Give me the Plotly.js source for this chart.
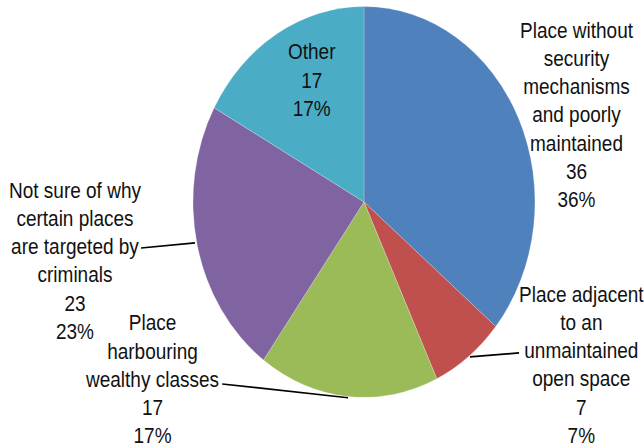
<!DOCTYPE html>
<html>
<head>
<meta charset="utf-8">
<script src="https://cdn.plot.ly/plotly-3.0.1.min.js"></script>
<style>
  html, body { margin: 0; padding: 0; background: #fff; overflow: hidden; }
  #wrap { width: 644px; height: 448px; overflow: hidden; }
  #plot { width: 644px; height: 392px; transform: scale(1, 1.142857); transform-origin: 0 0; }
</style>
</head>
<body>
<div id="wrap"><div id="plot"></div></div>
<script>
// Data
const categories = [
  "Place without<br>security<br>mechanisms<br>and poorly<br>maintained",
  "Place adjacent<br>to an<br>unmaintained<br>open space",
  "Place<br>harbouring<br>wealthy classes",
  "Not sure of why<br>certain places<br>are targeted by<br>criminals",
  "Other"
];
const values = [36, 7, 17, 23, 17];
const colors = ["#4F81BD", "#C0504D", "#9BBB59", "#8064A2", "#4BACC6"];

// Label placement (paper coords) and leader lines
const labelPos = [
  [0.896, 0.7434], [0.9037, 0.1842], [0.236, 0.154], [0.1165, 0.4176], [0.4845, 0.8214]
];
const leaders = [
  null,
  [0.7298, 0.2033, 0.8060, 0.2122],
  [0.3450, 0.1429, 0.5404, 0.1122],
  [0.2190, 0.4464, 0.3028, 0.4577],
  null
];

const total = values.reduce((a, b) => a + b, 0);
const font = { family: "'Liberation Sans', Arial, sans-serif", size: 19, color: "#111" };

const annotations = categories.map((c, i) => ({
  x: labelPos[i][0], y: labelPos[i][1], xref: "paper", yref: "paper",
  xanchor: "center", yanchor: "middle", showarrow: false, align: "center",
  text: c + "<br>" + values[i] + "<br>" + Math.round(values[i] / total * 100) + "%",
  font: font
}));

const shapes = leaders.filter(l => l).map(l => ({
  type: "line", xref: "paper", yref: "paper",
  x0: l[0], y0: l[1], x1: l[2], y1: l[3],
  line: { color: "#000", width: 1.5 }
}));

const trace = {
  type: "pie",
  labels: categories,
  values: values,
  sort: false,
  direction: "clockwise",
  rotation: 0,
  marker: { colors: colors, line: { color: "rgba(255,255,255,0.4)", width: 0.5 } },
  textinfo: "none",
  hoverinfo: "none",
  showlegend: false,
  domain: { x: [0.2997, 0.8307], y: [0.113, 0.9855] }
};

Plotly.newPlot("plot", [trace], {
  width: 644, height: 392,
  margin: { l: 0, r: 0, t: 0, b: 0 },
  paper_bgcolor: "#fff",
  showlegend: false,
  annotations: annotations,
  shapes: shapes,
  font: font
}, { displayModeBar: false, staticPlot: true });
</script>
</body>
</html>
